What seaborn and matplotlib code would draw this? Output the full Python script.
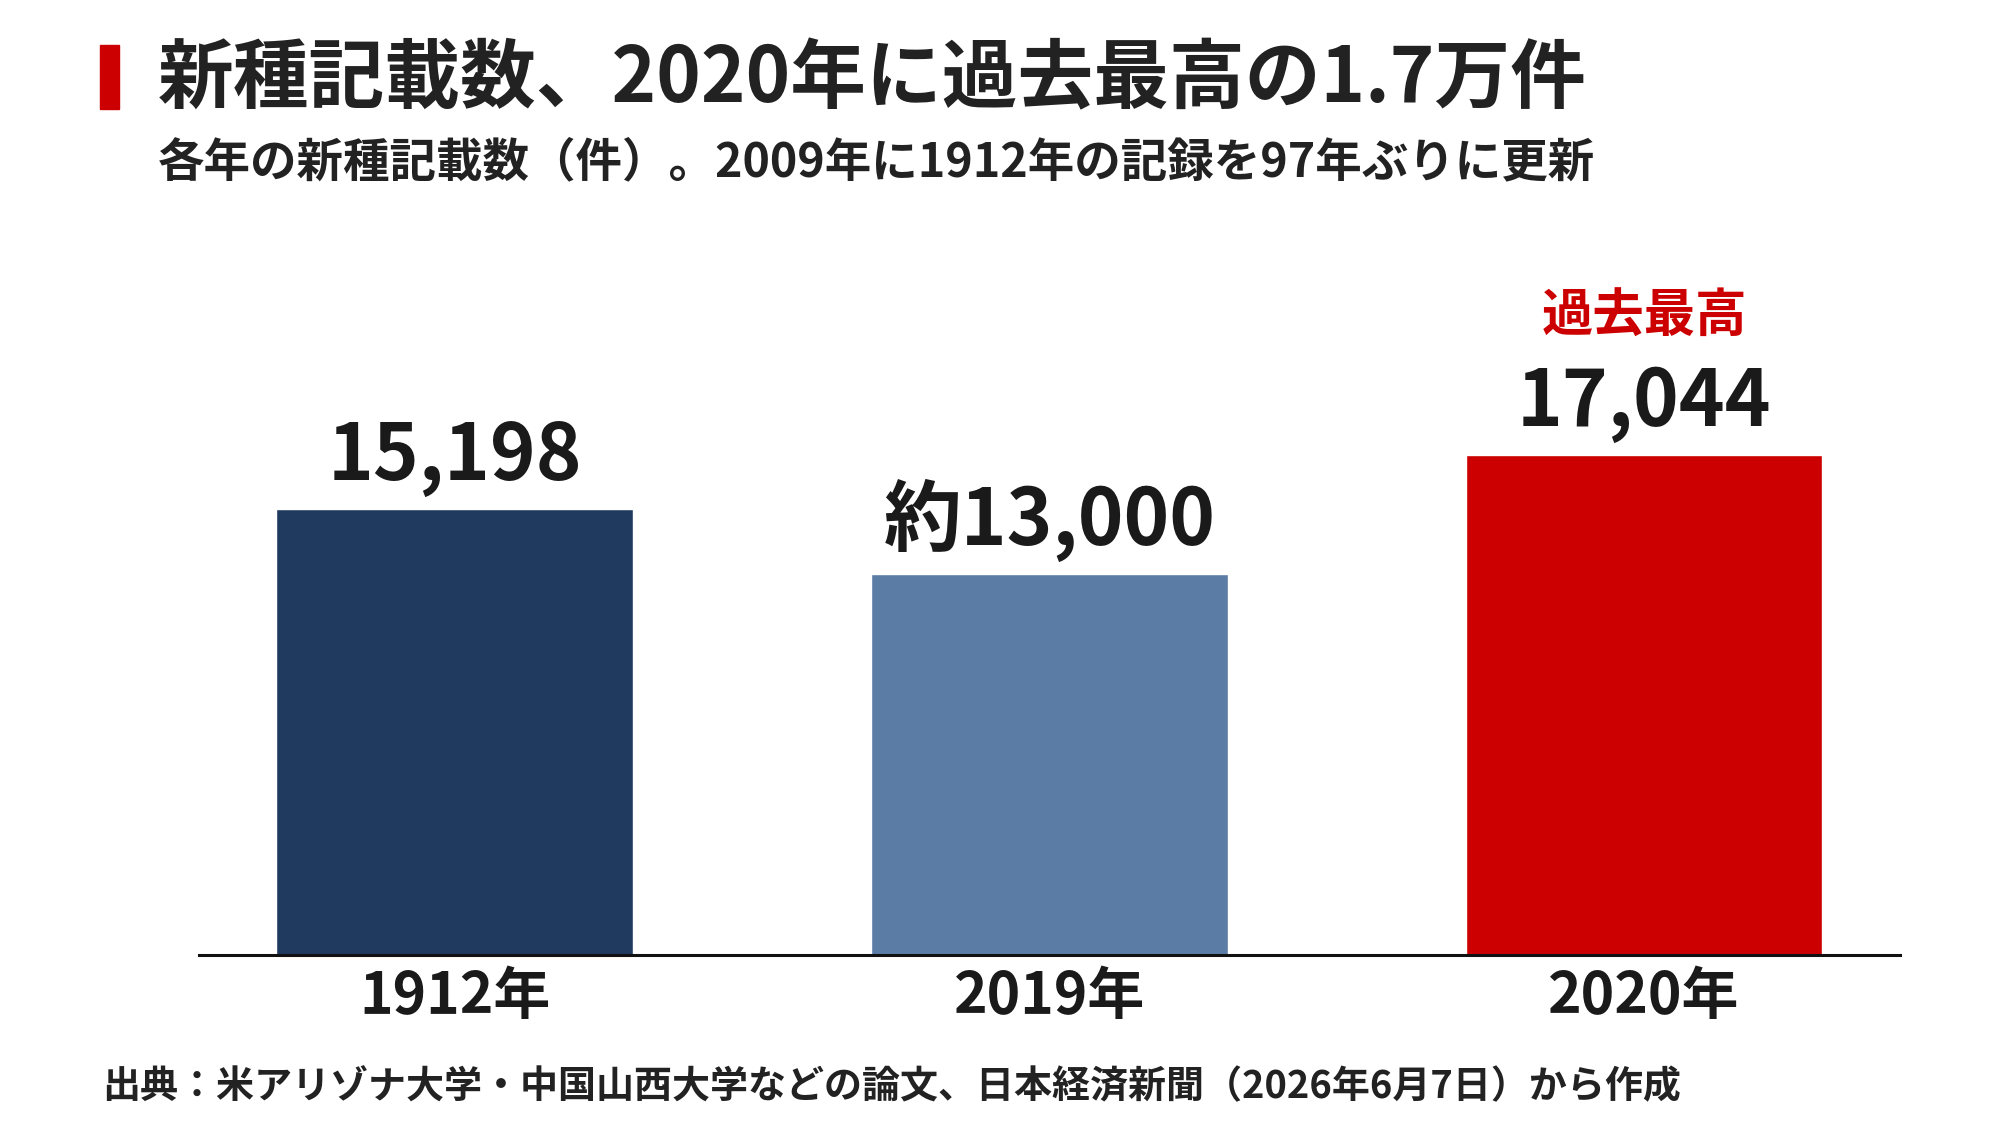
import matplotlib
matplotlib.use("Agg")
import matplotlib.pyplot as plt
import seaborn as sns
import pandas as pd

# データ
years = ["1912年", "2019年", "2020年"]
counts = [15198, 13000, 17044]
value_labels = ["15,198", "約13,000", "17,044"]
bar_colors = ["#1f3a5e", "#5b7ca4", "#cc0000"]

TITLE = "新種記載数、2020年に過去最高の1.7万件"
SUBTITLE = "各年の新種記載数（件）。2009年に1912年の記録を97年ぶりに更新"
SOURCE = "出典：米アリゾナ大学・中国山西大学などの論文、日本経済新聞（2026年6月7日）から作成"
RECORD = "過去最高"

sns.set_style("white")
plt.rcParams["font.family"] = ["Noto Sans CJK JP", "DejaVu Sans"]

df = pd.DataFrame({"year": years, "count": counts})

fig = plt.figure(figsize=(20, 11.25), dpi=100)
ax = fig.add_axes([0.0995, 0.151, 0.8504, 0.6258])

sns.barplot(data=df, x="year", y="count", hue="year", palette=bar_colors,
            width=0.6, saturation=1, legend=False, ax=ax)

ax.set_ylim(0, 24000)
ax.set_xlim(-0.43, 2.43)
ax.set_xlabel("")
ax.set_ylabel("")
ax.set_yticks([])
for s in ["top", "right", "left"]:
    ax.spines[s].set_visible(False)
ax.spines["bottom"].set_linewidth(2.2)
ax.spines["bottom"].set_color("#111111")
ax.tick_params(axis="x", length=7, width=1, color="#555555", pad=2,
               labelsize=41, labelcolor="#1a1a1a")
for lbl in ax.get_xticklabels():
    lbl.set_fontweight("bold")

for cont, lab in zip(ax.containers, value_labels):
    ax.bar_label(cont, labels=[lab], padding=8.5,
                 fontsize=56, fontweight="bold", color="#1a1a1a")

# 過去最高の注記
ax.annotate(RECORD, xy=(2, counts[2]), xytext=(0, 81), textcoords="offset points",
            ha="center", va="bottom", fontsize=37, fontweight="bold", color="#cc0000")

# タイトル周り
fig.patches.append(plt.Rectangle((0.050, 0.903), 0.0095, 0.057, transform=fig.transFigure,
                                 color="#cc0000", zorder=5))
fig.text(0.079, 0.929, TITLE, fontsize=54.5, fontweight="bold", color="#222222",
         va="center", ha="left")
fig.text(0.079, 0.856, SUBTITLE, fontsize=33.5, fontweight="bold", color="#222222",
         va="center", ha="left")
fig.text(0.051, 0.034, SOURCE, fontsize=27.4, fontweight="bold", color="#222222",
         va="center", ha="left")

fig.savefig("out.png", dpi=100, facecolor="white")
